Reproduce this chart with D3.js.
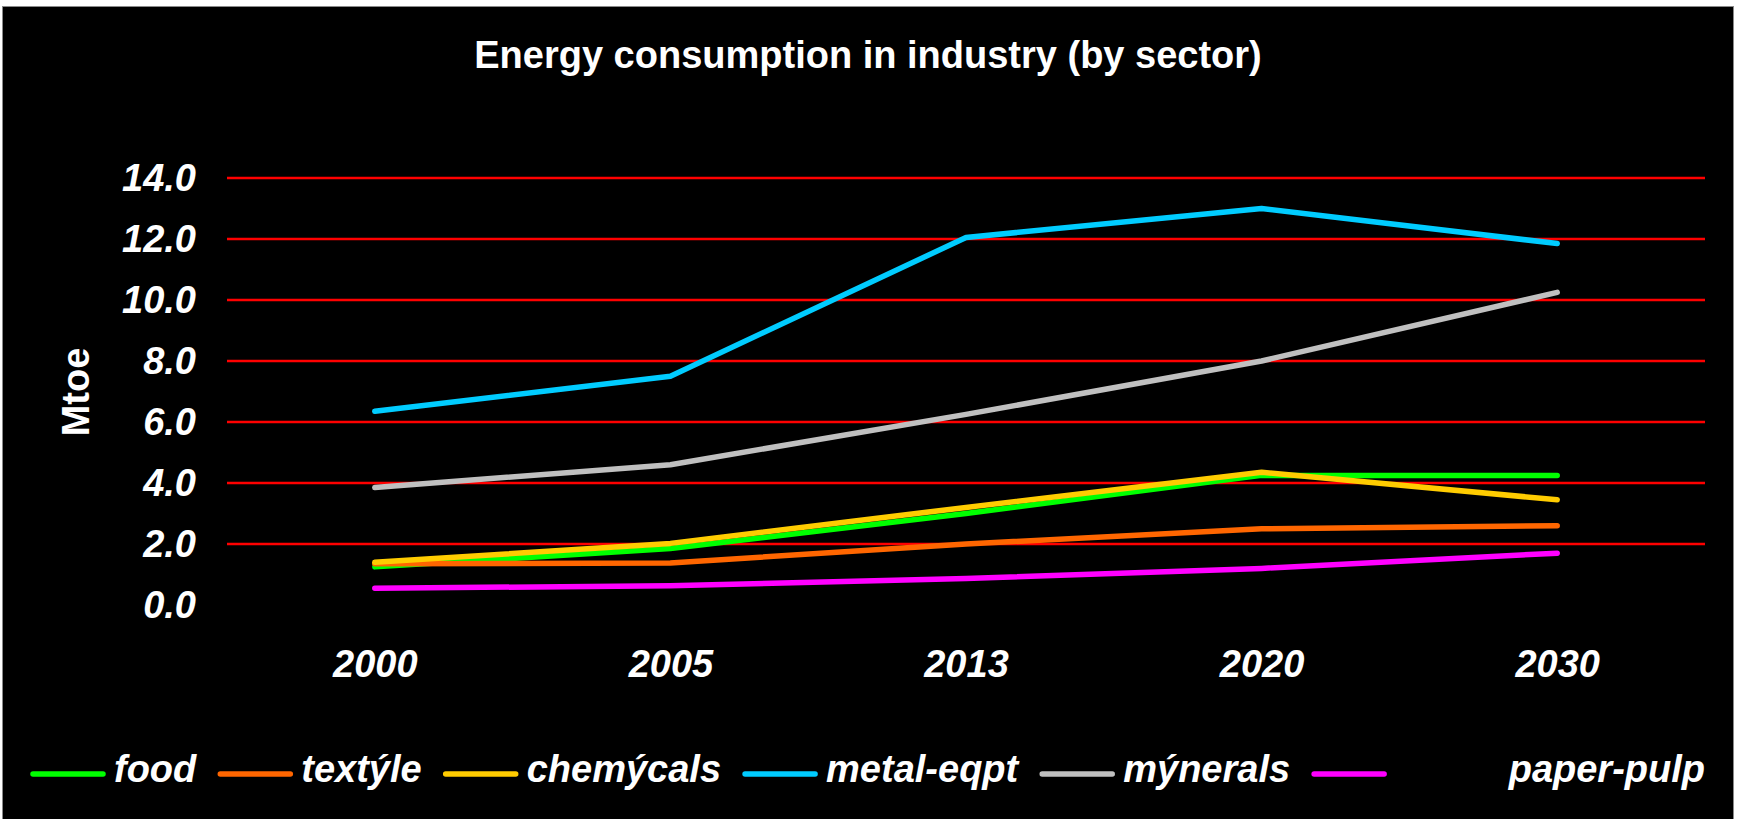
<!DOCTYPE html>
<html>
<head>
<meta charset="utf-8">
<script src="https://cdn.jsdelivr.net/npm/d3@7"></script>
<style>
  html, body { margin: 0; padding: 0; background: #ffffff; }
  svg { display: block; }
  text { font-family: "Liberation Sans", Arial, sans-serif; fill: #ffffff; }
</style>
</head>
<body>
<svg id="chart" width="1740" height="819"></svg>
<script>
// Energy consumption in industry, Mtoe per sector
const years = ["2000", "2005", "2013", "2020", "2030"];
const seriesNames = ["food", "textýle", "chemýcals", "metal-eqpt", "mýnerals", "paper-pulp"];
const seriesColors = ["#00ff00", "#ff6600", "#ffcc00", "#00ccff", "#c0c0c0", "#ff00ff"];
const food      = [1.25, 1.85, 3.00, 4.25, 4.25];
const textile   = [1.35, 1.38, 2.00, 2.50, 2.60];
const chemicals = [1.40, 2.02, 3.20, 4.35, 3.45];
const metalEqpt = [6.35, 7.50, 12.05, 13.00, 11.85];
const minerals  = [3.85, 4.60, 6.25, 8.00, 10.25];
const paperPulp = [0.55, 0.63, 0.87, 1.20, 1.70];
const yTicks = [0, 2, 4, 6, 8, 10, 12, 14];
const titleText = "Energy consumption in industry (by sector)";
const yTitle = "Mtoe";

const seriesValues = [food, textile, chemicals, metalEqpt, minerals, paperPulp];
const series = seriesNames.map((name, i) => ({ name, color: seriesColors[i], values: seriesValues[i] }));

const svg = d3.select("#chart");

// chart background with thin grey frame
svg.append("rect")
  .attr("x", 2.5).attr("y", 6.5)
  .attr("width", 1731).attr("height", 830)
  .attr("fill", "#000000")
  .attr("stroke", "#8a8a8a").attr("stroke-width", 1);

const plot = { left: 227, right: 1705, top: 178, bottom: 605 };

const x = d3.scalePoint().domain(years).range([plot.left, plot.right]).padding(0.5);
const y = d3.scaleLinear().domain([0, 14]).range([plot.bottom, plot.top]);

// title
svg.append("text")
  .attr("x", 868).attr("y", 68)
  .attr("text-anchor", "middle")
  .style("font-size", "38px").style("font-weight", "bold")
  .text(titleText);

// horizontal gridlines
svg.append("g").selectAll("line")
  .data(yTicks.filter(d => d > 0))
  .join("line")
  .attr("x1", plot.left).attr("x2", plot.right)
  .attr("y1", d => y(d)).attr("y2", d => y(d))
  .attr("stroke", "#ff0000").attr("stroke-width", 2.6);

// y axis labels
const yAxis = d3.axisLeft(y).tickValues(yTicks).tickFormat(d3.format(".1f")).tickSize(0).tickPadding(0);
const yg = svg.append("g").attr("transform", `translate(196,0)`).call(yAxis);
yg.select(".domain").remove();
yg.selectAll("text")
  .attr("fill", "#ffffff")
  .style("font-family", "'Liberation Sans', Arial, sans-serif")
  .style("font-size", "38px").style("font-weight", "bold").style("font-style", "italic");

// x axis labels
const xAxis = d3.axisBottom(x).tickSize(0).tickPadding(0);
const xg = svg.append("g").attr("transform", `translate(0,650)`).call(xAxis);
xg.select(".domain").remove();
xg.selectAll("text")
  .attr("fill", "#ffffff").attr("dy", "0.71em")
  .style("font-family", "'Liberation Sans', Arial, sans-serif")
  .style("font-size", "38px").style("font-weight", "bold").style("font-style", "italic");

// y axis title
svg.append("text")
  .attr("transform", "translate(89,392) rotate(-90)")
  .attr("text-anchor", "middle")
  .style("font-size", "38px").style("font-weight", "bold")
  .text(yTitle);

// series lines
const line = d3.line()
  .x((d, i) => x(years[i]))
  .y(d => y(d));

svg.append("g").selectAll("path")
  .data(series)
  .join("path")
  .attr("d", d => line(d.values))
  .attr("fill", "none")
  .attr("stroke", d => d.color)
  .attr("stroke-width", 5.5)
  .attr("stroke-linecap", "round")
  .attr("stroke-linejoin", "round");

// legend
const legend = svg.append("g");
let lx = 31;
const ly = 774;
series.forEach((s, i) => {
  legend.append("line")
    .attr("x1", lx + 2).attr("x2", lx + 72)
    .attr("y1", ly).attr("y2", ly)
    .attr("stroke", s.color).attr("stroke-width", 5.5)
    .attr("stroke-linecap", "round");
  const last = i === series.length - 1;
  const t = legend.append("text")
    .attr("x", last ? plot.right : lx + 83)
    .attr("y", 782)
    .attr("text-anchor", last ? "end" : "start")
    .style("font-size", "38px").style("font-weight", "bold").style("font-style", "italic")
    .text(s.name);
  lx = lx + 83 + t.node().getComputedTextLength() + 22;
});
</script>
</body>
</html>
